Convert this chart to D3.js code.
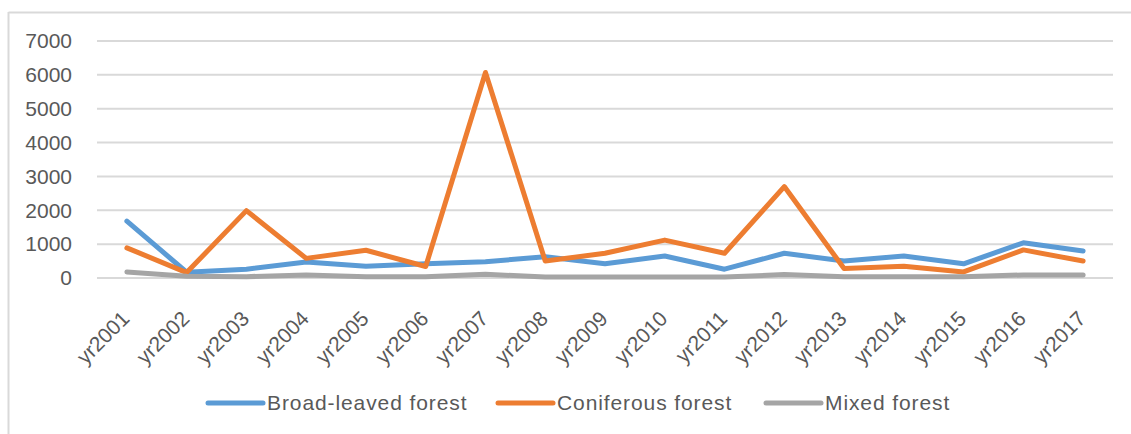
<!DOCTYPE html>
<html>
<head>
<meta charset="utf-8">
<script src="https://cdn.jsdelivr.net/npm/d3@7"></script>
<style>
  html, body { margin: 0; padding: 0; background: #fff; }
  svg { display: block; }
  text { font-family: "Liberation Sans", Arial, sans-serif; fill: #595959; }
</style>
</head>
<body>
<svg id="chart" width="1131" height="434"></svg>
<script>
// Annual values by forest type
const years = ["yr2001","yr2002","yr2003","yr2004","yr2005","yr2006","yr2007","yr2008","yr2009",
               "yr2010","yr2011","yr2012","yr2013","yr2014","yr2015","yr2016","yr2017"];
const broadLeaved = [1680, 170, 260, 470, 350, 420, 480, 630, 420, 650, 260, 730, 500, 650, 420, 1040, 800];
const coniferous  = [890, 160, 1990, 580, 820, 340, 6070, 500, 730, 1120, 730, 2700, 280, 350, 180, 830, 500];
const mixed       = [180, 50, 40, 90, 40, 40, 110, 30, 30, 30, 30, 100, 40, 40, 40, 90, 90];
const yTicks = [0, 1000, 2000, 3000, 4000, 5000, 6000, 7000];

const seriesNames = ["Broad-leaved forest", "Coniferous forest", "Mixed forest"];
const seriesColors = ["#5b9bd5", "#ed7d31", "#a5a5a5"];
const series = [broadLeaved, coniferous, mixed];

const fontSize = 21;
const svg = d3.select("#chart");

// outer frame (top and left edges)
svg.append("line").attr("x1", 8.5).attr("x2", 1131).attr("y1", 12.5).attr("y2", 12.5)
  .attr("stroke", "#d9d9d9").attr("stroke-width", 2);
svg.append("line").attr("x1", 8.5).attr("x2", 8.5).attr("y1", 12).attr("y2", 434)
  .attr("stroke", "#d9d9d9").attr("stroke-width", 2);

const plot = { left: 97, right: 1113, top: 41, bottom: 278 };

const x = d3.scaleBand().domain(years).range([plot.left, plot.right]);
const y = d3.scaleLinear().domain([0, 7000]).range([plot.bottom, plot.top]);

// horizontal grid lines
svg.append("g")
  .selectAll("line")
  .data(yTicks)
  .join("line")
  .attr("x1", plot.left).attr("x2", plot.right)
  .attr("y1", d => y(d)).attr("y2", d => y(d))
  .attr("stroke", "#d9d9d9").attr("stroke-width", 2);

// y axis labels
const yAxis = d3.axisLeft(y).tickValues(yTicks).tickFormat(d3.format("d")).tickSize(0).tickPadding(0);
const gy = svg.append("g").attr("transform", "translate(72,0)").call(yAxis);
gy.select(".domain").remove();
gy.selectAll("text").attr("font-size", fontSize).attr("fill", "#595959")
  .attr("font-family", "Liberation Sans, Arial, sans-serif");

// x axis labels, rotated
const xAxis = d3.axisBottom(x).tickSize(0).tickPadding(0);
const gx = svg.append("g").attr("transform", `translate(0,${plot.bottom})`).call(xAxis);
gx.select(".domain").remove();
gx.selectAll("text")
  .attr("font-size", fontSize).attr("fill", "#595959")
  .attr("font-family", "Liberation Sans, Arial, sans-serif")
  .attr("text-anchor", "end")
  .attr("dy", 0)
  .attr("transform", "translate(4,42) rotate(-45)");

// series lines
const line = d3.line()
  .x((d, i) => x(years[i]) + x.bandwidth() / 2)
  .y(d => y(d));

svg.append("g")
  .selectAll("path")
  .data(series)
  .join("path")
  .attr("d", d => line(d))
  .attr("fill", "none")
  .attr("stroke", (d, i) => seriesColors[i])
  .attr("stroke-width", 5)
  .attr("stroke-linejoin", "round")
  .attr("stroke-linecap", "round");

// legend
const legendX = [208, 498, 766];
const legend = svg.append("g")
  .selectAll("g")
  .data(seriesNames)
  .join("g")
  .attr("transform", (d, i) => `translate(${legendX[i]},403)`);
legend.append("line")
  .attr("x1", 0).attr("x2", 55).attr("y1", 0).attr("y2", 0)
  .attr("stroke", (d, i) => seriesColors[i])
  .attr("stroke-width", 5).attr("stroke-linecap", "round");
legend.append("text")
  .attr("x", 59).attr("y", 0).attr("dy", "0.35em")
  .attr("font-size", fontSize)
  .attr("letter-spacing", 0.9)
  .text(d => d);
</script>
</body>
</html>
